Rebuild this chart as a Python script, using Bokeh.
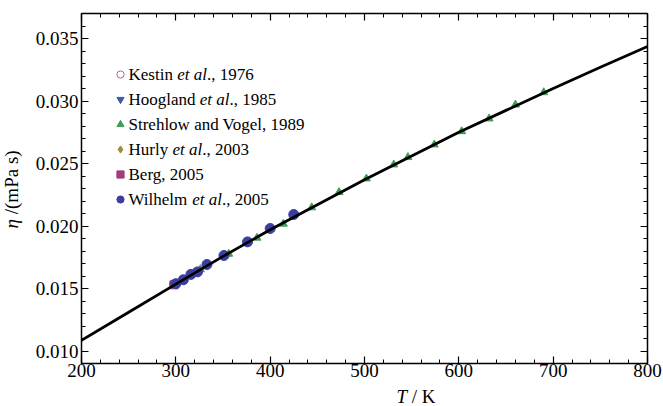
from bokeh.plotting import figure
from bokeh.layouts import row, column
from bokeh.models import Range1d, LinearAxis, Label, Legend, LegendItem, FixedTicker
from bokeh.embed import file_html
from bokeh.resources import INLINE

# ---- data ----
T_line = [200, 250, 300, 350, 400, 450, 500, 550, 600, 650, 700, 750, 800]
eta_line = [0.01085, 0.0131, 0.01535, 0.01757, 0.0197, 0.0217, 0.0237, 0.0256,
            0.0275, 0.02925, 0.0310, 0.0327, 0.03436]

T_kestin = [298]
eta_kestin = [0.01535]
T_hoogland = [303, 310]
eta_hoogland = [0.01552, 0.01580]
T_strehlow = [298, 326, 356, 386, 414, 444, 473, 502, 531, 546, 574, 603, 632, 660, 690]
eta_strehlow = [0.01535, 0.01653, 0.01777, 0.01905, 0.02017, 0.02148, 0.0227, 0.02379,
                0.02491, 0.0255, 0.02651, 0.02757, 0.02859, 0.0297, 0.03069]
T_hurly = [300]
eta_hurly = [0.01538]
T_berg = [298]
eta_berg = [0.01530]
T_wilhelm = [300, 308, 316, 323, 333, 351, 376, 400, 425]
eta_wilhelm = [0.01538, 0.0157, 0.01613, 0.01633, 0.01692, 0.01764, 0.01873, 0.0198, 0.02092]

x_ticks = [200, 300, 400, 500, 600, 700, 800]
y_ticks = [0.010, 0.015, 0.020, 0.025, 0.030, 0.035]
x_minor = [200 + 20 * i for i in range(31)]
y_minor = [0.009 + 0.001 * i for i in range(29)]

legend_rows = [
    [("Kestin ", False), ("et al", True), ("., 1976", False)],
    [("Hoogland ", False), ("et al", True), ("., 1985", False)],
    [("Strehlow and Vogel, 1989", False)],
    [("Hurly ", False), ("et al", True), ("., 2003", False)],
    [("Berg, 2005", False)],
    [("Wilhelm ", False), ("et al", True), ("., 2005", False)],
]
x_title = [("T", True), (" / K", False)]
y_title = [("\u03b7", True), (" /(mPa s)", False)]

FONT = "Liberation Serif"
LEFT_W = 30

p = figure(width=663 - LEFT_W, height=386, output_backend="svg", toolbar_location=None,
           x_range=Range1d(200, 800), y_range=Range1d(0.009, 0.037),
           min_border_left=81 - LEFT_W, min_border_right=16, min_border_top=13,
           min_border_bottom=23, x_axis_location=None, y_axis_location=None)
p.xgrid.visible = False
p.ygrid.visible = False
p.outline_line_color = None
p.background_fill_color = "white"
p.border_fill_color = "white"


def style_axis(ax, ticks, minor, show_labels, standoff, fmt):
    ax.ticker = FixedTicker(ticks=ticks, minor_ticks=minor)
    ax.axis_line_color = "black"
    ax.axis_line_width = 1.5
    ax.major_tick_line_color = "black"
    ax.minor_tick_line_color = "black"
    ax.major_tick_line_width = 1.2
    ax.minor_tick_line_width = 1.0
    ax.major_tick_in = 7
    ax.major_tick_out = 0
    ax.minor_tick_in = 4
    ax.minor_tick_out = 0
    ax.major_label_text_font = FONT
    ax.major_label_text_color = "black"
    ax.major_label_standoff = standoff
    if show_labels:
        ax.major_label_text_font_size = "19px"
        ax.major_label_overrides = fmt
    else:
        ax.major_label_text_font_size = "0px"
        ax.major_label_text_alpha = 0


xfmt = {v: str(v) for v in x_ticks}
yfmt = {v: f"{v:.3f}" for v in y_ticks}

bx = LinearAxis(); style_axis(bx, x_ticks, x_minor, True, 0, xfmt)
tx = LinearAxis(); style_axis(tx, x_ticks, x_minor, False, 0, xfmt)
ly = LinearAxis(); style_axis(ly, y_ticks, y_minor, True, 3, yfmt)
ry = LinearAxis(); style_axis(ry, y_ticks, y_minor, False, 0, yfmt)
p.add_layout(bx, "below")
p.add_layout(tx, "above")
p.add_layout(ly, "left")
p.add_layout(ry, "right")

# ---- markers ----
r_kestin = p.scatter(T_kestin, eta_kestin, marker="circle", size=9, fill_color=None,
                     line_color="#c45aa8", line_width=1)
r_hoog = p.scatter(T_hoogland, eta_hoogland, marker="inverted_triangle", size=9,
                   fill_color="#3a5ba8", line_color="#3a5ba8")
r_streh = p.scatter(T_strehlow, eta_strehlow, marker="triangle", size=8,
                    fill_color="#3f9d58", line_color="#3f9d58")
r_hurly = p.scatter(T_hurly, eta_hurly, marker="diamond", size=10,
                    fill_color="#a08c3e", line_color="#a08c3e")
r_berg = p.scatter(T_berg, eta_berg, marker="square", size=8,
                   fill_color="#a23c7c", line_color="#a23c7c")
r_wil = p.scatter(T_wilhelm, eta_wilhelm, marker="circle", size=10,
                  fill_color="#3b3ea0", line_color="#3b3ea0")

p.line(T_line, eta_line, line_color="black", line_width=2.8)

legend = Legend(items=[LegendItem(label=" ", renderers=[r]) for r in
                       [r_kestin, r_hoog, r_streh, r_hurly, r_berg, r_wil]],
                location=(30, 154), glyph_width=18, glyph_height=20, label_height=20,
                spacing=5, padding=0, margin=0, label_standoff=0,
                label_text_font_size="1px", label_text_alpha=0,
                border_line_alpha=0, background_fill_alpha=0)
p.add_layout(legend)

# ---- text width helper (Times-metric advance widths) ----
W_ROMAN = {' ': 250, ',': 250, '.': 250, 'K': 722, 'e': 444, 's': 389, 't': 278, 'i': 278,
           'n': 500, 'a': 444, 'l': 278, 'H': 722, 'o': 500, 'g': 500, 'd': 500, 'u': 500,
           'r': 333, 'y': 500, 'W': 944, 'h': 500, 'm': 778, 'B': 667, 'S': 556, 'w': 722,
           'V': 722, 'T': 611, '/': 278, '(': 333, ')': 333, 'P': 556}
W_ITAL = {' ': 250, 'e': 444, 't': 278, 'a': 500, 'l': 278, 'T': 556, '\u03b7': 500}


def width(s, italic, size):
    tbl = W_ITAL if italic else W_ROMAN
    return sum(tbl.get(c, 500) for c in s) * size / 1000.0


def put(fig, segs, x0, y0, size, vertical=False):
    pos = x0 if not vertical else y0
    for txt, it in segs:
        lead = len(txt) - len(txt.lstrip(" "))
        pos += width(" " * lead, it, size)
        body = txt.lstrip(" ")
        fig.add_layout(Label(x=x0 if vertical else pos, y=pos if vertical else y0,
                             x_units="screen", y_units="screen", text=body,
                             angle=1.5707963 if vertical else 0.0,
                             text_font=FONT, text_font_size=f"{size}px",
                             text_font_style="italic" if it else "normal",
                             text_baseline="middle", text_align="left",
                             text_color="black"))
        pos += width(body, it, size)


LS = 17
for i, segs in enumerate(legend_rows):
    put(p, segs, 47.0, 289 - 25 * i, LS)


def blank(w, h):
    f = figure(width=w, height=h, output_backend="svg", toolbar_location=None,
               x_range=Range1d(0, 1), y_range=Range1d(0, 1),
               min_border_left=0, min_border_right=0, min_border_top=0, min_border_bottom=0,
               x_axis_location=None, y_axis_location=None)
    f.xgrid.visible = False
    f.ygrid.visible = False
    f.outline_line_color = None
    f.background_fill_color = "white"
    f.border_fill_color = "white"
    return f


# x-axis title strip under the main plot
xf = blank(663 - LEFT_W, 20)
put(xf, x_title, 345.0 - LEFT_W, 10, 19)

# y-axis title strip left of the main plot
yf = blank(LEFT_W, 406)
put(yf, y_title, 11, 406 - 228.0, 19, vertical=True)

layout = row(yf, column(p, xf, spacing=0), spacing=0)

open("out.html", "w").write(file_html(layout, INLINE))
